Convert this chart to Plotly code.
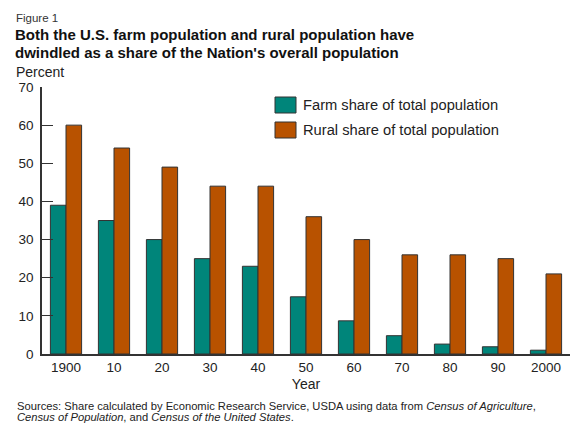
import plotly.graph_objects as go

years = ["1900", "10", "20", "30", "40", "50", "60", "70", "80", "90", "2000"]
farm_share = [39, 35, 30, 25, 23, 15, 8.7, 4.8, 2.6, 1.9, 1.0]
rural_share = [60, 54, 49, 44, 44, 36, 30, 26, 26, 25, 21]
y_ticks = [0, 10, 20, 30, 40, 50, 60, 70]
series_names = ["Farm share of total population", "Rural share of total population"]

TEAL = "#00857A"
ORANGE = "#B85200"
EDGE = "#333333"
FONT = "Liberation Sans, Arial, sans-serif"

W, H = 572, 423
ML, MR, MT, MB = 42, 2, 87, 69
plot_w = W - ML - MR
plot_h = H - MT - MB


def px_x(x):
    return (x - ML) / plot_w


def px_y(y):
    return (H - MB - y) / plot_h


fig = go.Figure()
fig.add_trace(go.Bar(x=years, y=farm_share, name=series_names[0], showlegend=False,
                     marker=dict(color=TEAL, line=dict(color=EDGE, width=1))))
fig.add_trace(go.Bar(x=years, y=rural_share, name=series_names[1], showlegend=False,
                     marker=dict(color=ORANGE, line=dict(color=EDGE, width=1))))

fig.update_layout(
    width=W, height=H,
    margin=dict(l=ML, r=MR, t=MT, b=MB),
    paper_bgcolor="white", plot_bgcolor="white",
    barmode="group", bargap=0.35, bargroupgap=0,
    font=dict(family=FONT, color="#222222", size=13.5),
    xaxis=dict(type="category", range=[-0.5, 10.5], showline=True, linecolor=EDGE,
               linewidth=1.5, ticks="", showgrid=False, tickfont=dict(size=13.5),
               title=dict(text="Year", font=dict(size=14), standoff=5)),
    yaxis=dict(range=[0, 70], tickvals=y_ticks, showline=True, linecolor=EDGE,
               linewidth=1.5, ticks="inside", ticklen=11, tickcolor=EDGE, tickwidth=1.2,
               showgrid=False, zeroline=False, tickfont=dict(size=13.5), ticklabelstandoff=4),
)

# Legend drawn as swatches + labels
shapes = []
legend_rows = [(TEAL, 105), (ORANGE, 130)]
annotations = []
for (color, yc), name in zip(legend_rows, series_names):
    shapes.append(dict(type="rect", xref="paper", yref="paper",
                       x0=px_x(275), x1=px_x(296), y0=px_y(yc + 8), y1=px_y(yc - 8),
                       fillcolor=color, line=dict(color=EDGE, width=1)))
    annotations.append(dict(text=name, showarrow=False, xref="paper", yref="paper",
                            x=px_x(301), y=px_y(yc), xanchor="left", yanchor="middle",
                            font=dict(size=14.7, color="#222222", family=FONT)))

texts = [
    dict(text="Figure 1", xpx=14, ypx=18, size=11.5, color="#333333"),
    dict(text="<b>Both the U.S. farm population and rural population have</b>", xpx=13, ypx=35, size=15, color="#111111"),
    dict(text="<b>dwindled as a share of the Nation's overall population</b>", xpx=13, ypx=53, size=15, color="#111111"),
    dict(text="Percent", xpx=14, ypx=72, size=14, color="#222222"),
    dict(text="Sources: Share calculated by Economic Research Service, USDA using data from <i>Census of Agriculture</i>,",
         xpx=15, ypx=405.5, size=11.2, color="#222222"),
    dict(text="<i>Census of Population</i>, and <i>Census of the United States</i>.",
         xpx=15, ypx=416.5, size=11.2, color="#222222"),
]
for a in texts:
    annotations.append(dict(
        text=a["text"], showarrow=False, xref="paper", yref="paper",
        x=px_x(a["xpx"]), y=px_y(a["ypx"]),
        xanchor="left", yanchor="middle", align="left",
        font=dict(size=a["size"], color=a["color"], family=FONT)))

fig.update_layout(shapes=shapes, annotations=annotations)

fig.write_html("out.html", config={"displayModeBar": False},
               post_script="document.body.style.margin='0';document.body.style.padding='0';")
